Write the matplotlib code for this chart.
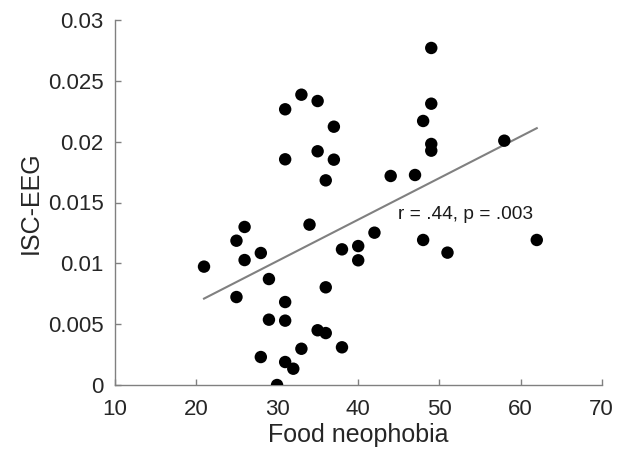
import numpy as np
import matplotlib
matplotlib.use("Agg")
import matplotlib.pyplot as plt

plt.rcParams['font.family'] = ['Liberation Sans', 'DejaVu Sans']

# Food neophobia score and inter-subject EEG correlation per participant
neophobia = [21, 25, 25, 26, 26, 28, 28, 29, 29, 30,
             31, 31, 31, 31, 31, 32, 33, 33, 34, 35,
             35, 35, 36, 36, 36, 37, 37, 38, 38, 40,
             40, 42, 44, 47, 48, 48, 49, 49, 49, 49,
             51, 58, 62]
isc_eeg = [0.00973, 0.01186, 0.00723, 0.01299, 0.01027, 0.01085, 0.00230, 0.00871, 0.00537, 0.00000,
           0.02266, 0.01855, 0.00682, 0.00529, 0.00189, 0.00134, 0.02386, 0.00298, 0.01318, 0.02334,
           0.01921, 0.00450, 0.01682, 0.00803, 0.00427, 0.02123, 0.01852, 0.01115, 0.00310, 0.01142,
           0.01025, 0.01252, 0.01718, 0.01726, 0.02170, 0.01192, 0.02770, 0.02312, 0.01981, 0.01926,
           0.01088, 0.02008, 0.01192]

x_ticks = [10, 20, 30, 40, 50, 60, 70]
y_ticks = [0, 0.005, 0.01, 0.015, 0.02, 0.025, 0.03]
y_tick_labels = ['0', '0.005', '0.01', '0.015', '0.02', '0.025', '0.03']
stats_label = 'r = .44, p = .003'

x = np.array(neophobia, dtype=float)
y = np.array(isc_eeg, dtype=float)

fig = plt.figure(figsize=(6.29, 4.5), dpi=100)
ax = fig.add_axes([0.1824, 0.1444, 0.7742, 0.8112])

# least-squares line across the observed range
slope, intercept = np.polyfit(x, y, 1)
xf = np.array([x.min(), x.max()])
ax.plot(xf, slope * xf + intercept, color='#808080', lw=1.5, zorder=2)

ax.scatter(x, y, s=80, color='black', edgecolors='none', zorder=3)

ax.text(44.9, 0.01405, stats_label, fontsize=13.8, color='#1a1a1a',
        ha='left', va='center')

ax.set_xlim(10, 70)
ax.set_ylim(0, 0.03)
ax.set_xticks(x_ticks)
ax.set_yticks(y_ticks)
ax.set_yticklabels(y_tick_labels)

for side in ('top', 'right'):
    ax.spines[side].set_visible(False)
for side in ('left', 'bottom'):
    ax.spines[side].set_color('#808080')
    ax.spines[side].set_linewidth(1.0)

ax.tick_params(direction='in', length=4, width=1.0, color='#808080',
               labelsize=16, labelcolor='#262626')
ax.tick_params(axis='x', pad=10)
ax.tick_params(axis='y', pad=8)

ax.set_xlabel('Food neophobia', fontsize=18, color='#262626', labelpad=2)
ax.set_ylabel('ISC-EEG', fontsize=18, color='#262626', labelpad=3.5)

fig.savefig('out.png', dpi=100)
